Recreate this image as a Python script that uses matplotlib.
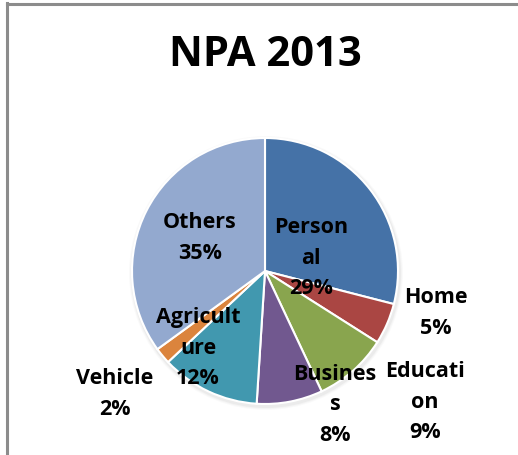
import matplotlib
matplotlib.use("Agg")
import matplotlib.pyplot as plt
from matplotlib.lines import Line2D

# NPA share by loan category, 2013 (percent)
categories = ["Personal", "Home", "Education", "Business", "Agriculture", "Vehicle", "Others"]
shares = [29, 5, 9, 8, 12, 2, 35]
label_texts = ["Person\nal\n29%", "Home\n5%", "Educati\non\n9%", "Busines\ns\n8%",
               "Agricult\nure\n12%", "Vehicle\n2%", "Others\n35%"]
colors = ["#4572A7", "#AA4643", "#89A54E", "#71588F", "#4198AF", "#DB843D", "#93A9CF"]
title = "NPA 2013"

W, H = 518, 455
fig = plt.figure(figsize=(W / 100, H / 100), dpi=100)
ax = fig.add_axes([0, 0, 1, 1])

cx, cy, r = 265, H - 271, 133

# soft shadow under the pie
for i, a in enumerate([0.035, 0.025, 0.02]):
    ax.add_patch(plt.Circle((cx + 1, cy - 2), r + 2 + i, color="black", alpha=a, lw=0, zorder=0))

ax.pie(shares, colors=colors, startangle=90, counterclock=False,
       center=(cx, cy), radius=r, frame=True,
       wedgeprops=dict(edgecolor="white", linewidth=1.5))
ax.set_xlim(0, W)
ax.set_ylim(0, H)
ax.set_aspect("equal")
ax.axis("off")

# label placement (pixel centres of each label block)
label_pos = [(311, 258), (436, 313), (425, 402), (335, 405), (198, 348), (115, 394), (200, 238)]
font = ["Open Sans", "DejaVu Sans"]
for txt, (x, y) in zip(label_texts, label_pos):
    ax.text(x, H - y, txt, ha="center", va="center", fontsize=15.5, fontweight="bold",
            family=font, linespacing=1.6, color="black", zorder=5)

ax.text(265, H - 55, title, ha="center", va="center", fontsize=30, fontweight="bold",
        family=font, color="black")

# chart frame (left and top edges)
fig.add_artist(Line2D([7 / W, 7 / W], [0, 1 - 3 / H], transform=fig.transFigure,
                      color="#8c8c8c", lw=2.2))
fig.add_artist(Line2D([7 / W, 1], [1 - 3.5 / H, 1 - 3.5 / H], transform=fig.transFigure,
                      color="#8c8c8c", lw=2.2))

fig.savefig("out.png", dpi=100, facecolor="white")
